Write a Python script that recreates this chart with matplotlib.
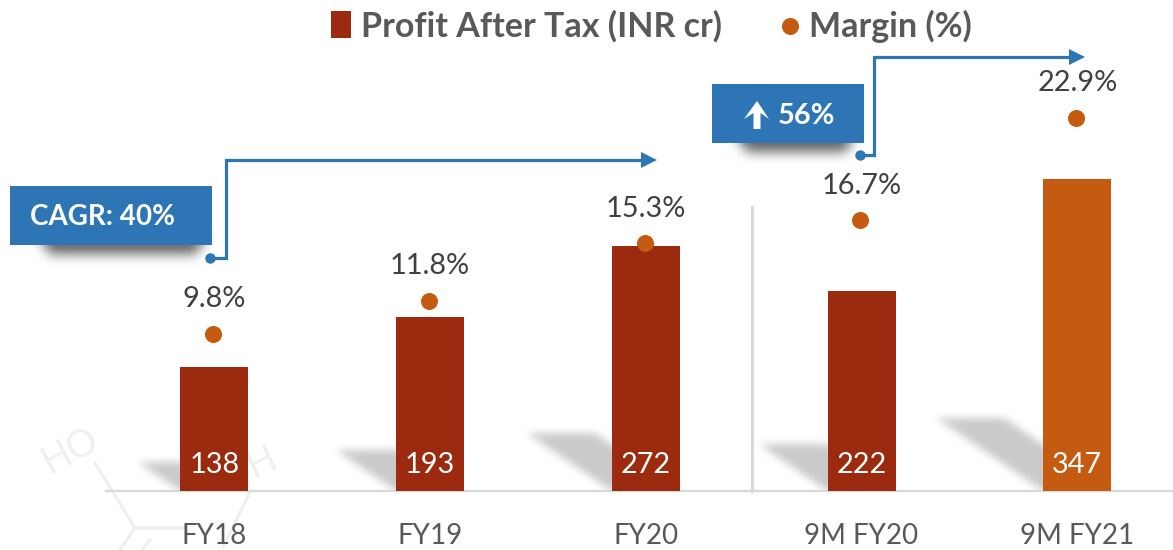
import numpy as np
import matplotlib
matplotlib.use("Agg")
import matplotlib.pyplot as plt
from matplotlib.path import Path
from matplotlib.patches import Polygon, Rectangle

categories = ["FY18", "FY19", "FY20", "9M FY20", "9M FY21"]
profit = [138, 193, 272, 222, 347]
margin = [9.8, 11.8, 15.3, 16.7, 22.9]

DARK = "#9C2A0E"
ORANGE = "#C55A11"
BLUE = "#2E75B6"
GRID = "#D9D9D9"
TEXT = "#404040"
LABEL = "#595959"
MARK = "#EFEFEF"

plt.rcParams["font.family"] = ["Lato", "DejaVu Sans"]

W, H = 1173, 550
fig = plt.figure(figsize=(W / 100, H / 100), dpi=100)

# pixel space layer for the background art
bg = fig.add_axes([0, 0, 1, 1], zorder=0)
bg.set_xlim(0, W)
bg.set_ylim(H, 0)
bg.axis("off")

ax = fig.add_axes([106.4 / W, (H - 491) / H, 1068 / W, 491 / H], zorder=1)
ax.patch.set_visible(False)
ax.set_xlim(-0.5, 4.45)
ax.set_ylim(0, 491 / 0.9)

x = np.arange(len(categories))
colors = [DARK, DARK, DARK, DARK, ORANGE]
bars = ax.bar(x, profit, width=0.315, color=colors, zorder=3, label="Profit After Tax (INR cr)")
for xi, v in zip(x, profit):
    ax.annotate(str(v), (xi, 0), xytext=(0, 18.5), textcoords="offset points", ha="center", va="center",
                color="white", fontsize=20.8)

ax.set_xticks(x, categories)
ax.tick_params(axis="x", length=0, pad=23, labelsize=20, labelcolor=LABEL)
ax.set_yticks([])
for s in ["top", "left", "right"]:
    ax.spines[s].set_visible(False)
ax.spines["bottom"].set_color(GRID)
ax.spines["bottom"].set_linewidth(1.6)

ax2 = ax.twinx()
ax2.set_zorder(2)
ax2.set_ylim(0.285, 30.06)
ax2.set_yticks([])
for s in ax2.spines.values():
    s.set_visible(False)
dots = ax2.scatter(x - 0.005, margin, s=150, color=ORANGE, zorder=4, linewidths=0, label="Margin (%)")
for xi, m in zip(x, margin):
    ax2.annotate(f"{m}%", (xi, m), xytext=(0, 25), textcoords="offset points", ha="center", va="center",
                 color=TEXT, fontsize=20.8)

leg = fig.legend(handles=[bars[0], dots], labels=["Profit After Tax (INR cr)", "Margin (%)"], ncol=2,
                 loc="center", bbox_to_anchor=(651.5 / W, 1 - 26 / H), frameon=False,
                 prop={"size": 24.5, "weight": "bold"}, labelcolor=LABEL, handlelength=0.6, handleheight=0.85,
                 handletextpad=0.28, columnspacing=1.7, borderpad=0)


def blur(a, sigma):
    ky = np.exp(-2 * (np.pi * sigma * np.fft.fftfreq(a.shape[0])) ** 2)
    kx = np.exp(-2 * (np.pi * sigma * np.fft.rfftfreq(a.shape[1])) ** 2)
    return np.fft.irfft2(np.fft.rfft2(a) * np.outer(ky, kx), s=a.shape)


gx, gy = np.meshgrid(np.arange(W) + 0.5, np.arange(H) + 0.5)
grid_pts = np.column_stack([gx.ravel(), gy.ravel()])


def soft(poly, sigma, strength):
    mask = Path(poly).contains_points(grid_pts).reshape(H, W).astype(float)
    return blur(mask, sigma) * strength


# cast shadows follow each bar's own size
shade = np.zeros((H, W))
for b in bars:
    (x0, y0), (x1, y1) = ax.transData.transform([(b.get_x(), 0), (b.get_x() + b.get_width(), b.get_height())])
    h = y1 - y0
    off = 0.345 * h
    top_y = 491 - 0.235 * h
    poly = [(x0, 491), (x1, 491), (x1 - off, top_y), (x0 - off, top_y)]
    shade = np.maximum(shade, soft(poly, 4, 0.21))
shade[491:] = 0
shade = np.maximum(shade, soft([(36, 232), (208, 232), (196, 254), (50, 254)], 6, 0.62))
shade = np.maximum(shade, soft([(733, 130), (856, 130), (846, 152), (747, 152)], 6, 0.62))
rgba = np.zeros((H, W, 4))
rgba[..., 3] = np.clip(shade, 0, 1)

# faint molecule watermark
for seg in [[(95, 463), (135, 528), (183, 528)], [(135, 528), (120, 550)], [(250, 492), (223, 547)],
            [(142, 550), (150, 540)]]:
    xs, ys = zip(*seg)
    bg.plot(xs, ys, color=MARK, lw=2.2, zorder=1)
bg.text(70, 451, "HO", fontsize=27, color=MARK, rotation=28, ha="center", va="center", zorder=1)
bg.text(262, 462, "H", fontsize=27, color=MARK, rotation=25, ha="center", va="center", zorder=1)

bg.imshow(rgba, extent=(0, W, H, 0), aspect="auto", zorder=2, interpolation="nearest")
bg.set_xlim(0, W)
bg.set_ylim(H, 0)

# divider between full years and nine months
bg.plot([752, 752], [207, 491], color=GRID, lw=2.2, zorder=3)

# growth callouts on top
top = fig.add_axes([0, 0, 1, 1], zorder=3)
top.set_xlim(0, W)
top.set_ylim(H, 0)
top.axis("off")

top.add_patch(Rectangle((10, 186), 202, 59, color=BLUE, lw=0))
top.add_patch(Rectangle((712, 84), 152, 59, color=BLUE, lw=0))
top.text(103, 217, "CAGR: 40%", color="white", fontsize=20, fontweight="bold", ha="center", va="center")
top.text(806, 116, "56%", color="white", fontsize=20.8, fontweight="bold", ha="center", va="center")
# up arrow icon in the second box
top.add_patch(Polygon([(757, 101), (769, 119), (760.5, 113), (760.5, 129), (753.5, 129), (753.5, 113), (744, 119)],
                      color="white", lw=0))

for path, tip in [([(210, 258), (226, 258), (226, 160), (642, 160)], (657, 160)),
                  ([(860, 155), (874, 155), (874, 57), (1070, 57)], (1085, 57))]:
    xs, ys = zip(*path)
    top.plot(xs, ys, color=BLUE, lw=2.3, solid_joinstyle="miter")
    top.plot(xs[0], ys[0], "o", color=BLUE, ms=7.5, mew=0)
    top.add_patch(Polygon([(tip[0] - 16, tip[1] - 8), tip, (tip[0] - 16, tip[1] + 8)], color=BLUE, lw=0))

fig.savefig("out.png", dpi=100)
